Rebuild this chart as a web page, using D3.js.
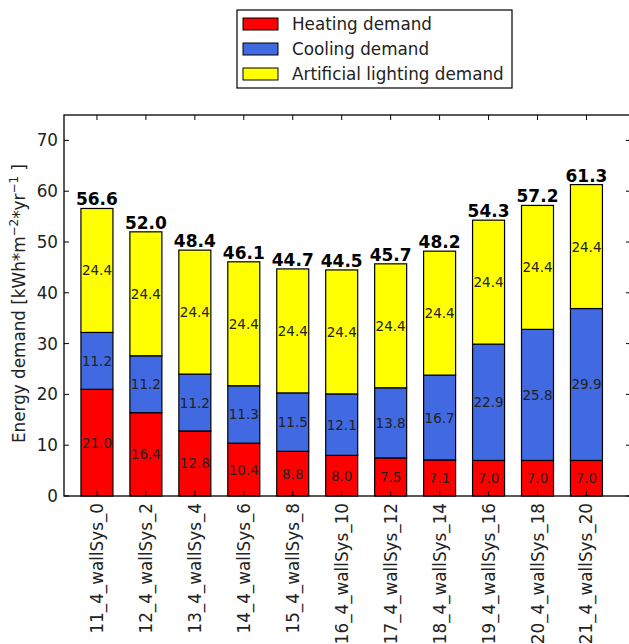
<!DOCTYPE html>
<html><head><meta charset="utf-8">
<script src="https://cdn.jsdelivr.net/npm/d3@7"></script>
<style>body{margin:0;background:#fff;}svg{display:block;font-family:"DejaVu Sans",sans-serif;}</style>
</head><body>
<svg id="c" width="629" height="644"></svg>
<script>
const categories = ["11_4_wallSys_0","12_4_wallSys_2","13_4_wallSys_4","14_4_wallSys_6","15_4_wallSys_8","16_4_wallSys_10","17_4_wallSys_12","18_4_wallSys_14","19_4_wallSys_16","20_4_wallSys_18","21_4_wallSys_20"];
const heating = [21.0,16.4,12.8,10.4,8.8,8.0,7.5,7.1,7.0,7.0,7.0];
const cooling = [11.2,11.2,11.2,11.3,11.5,12.1,13.8,16.7,22.9,25.8,29.9];
const lighting = [24.4,24.4,24.4,24.4,24.4,24.4,24.4,24.4,24.4,24.4,24.4];
const seriesNames = ["Heating demand","Cooling demand","Artificial lighting demand"];
const seriesColors = ["#ff0000","#4169e1","#ffff00"];
const yTicks = [0,10,20,30,40,50,60,70];

const svg = d3.select("#c");
const L = 64, R = 631, T = 115, B = 496;
const x = d3.scaleLinear().domain([-0.673, categories.length - 1 + 0.91]).range([L, R]);
const y = d3.scaleLinear().domain([0, 75]).range([B, T]);
const bw = 32;
const series = [heating, cooling, lighting];
const textCol = "#222";
const fs = 16.8;

// bars
categories.forEach((c, i) => {
  let base = 0;
  series.forEach((s, k) => {
    const v = s[i];
    svg.append("rect").attr("x", x(i) - bw/2).attr("y", y(base + v)).attr("width", bw).attr("height", y(base) - y(base + v))
      .attr("fill", seriesColors[k]).attr("stroke", "#000").attr("stroke-width", 1.2);
    svg.append("text").attr("x", x(i)).attr("y", y(base + v/2)).attr("text-anchor","middle").attr("dominant-baseline","central")
      .attr("font-size", 13.5).attr("fill", textCol).text(v.toFixed(1));
    base += v;
  });
  svg.append("text").attr("x", x(i)).attr("y", y(base) - 3).attr("text-anchor","middle")
    .attr("font-size", 17).attr("font-weight","bold").attr("fill","#000").text(base.toFixed(1));
});

// frame
svg.append("rect").attr("x", L).attr("y", T).attr("width", R - L).attr("height", B - T).attr("fill","none").attr("stroke","#000").attr("stroke-width",1.3);

// y ticks
const tl = 5;
yTicks.forEach(t => {
  svg.append("line").attr("x1", L).attr("x2", L + tl).attr("y1", y(t)).attr("y2", y(t)).attr("stroke","#000");
  svg.append("line").attr("x1", R).attr("x2", R - tl).attr("y1", y(t)).attr("y2", y(t)).attr("stroke","#000");
  svg.append("text").attr("x", L - 6).attr("y", y(t)).attr("text-anchor","end").attr("dominant-baseline","central")
    .attr("font-size", fs).attr("fill", textCol).text(t);
});
// x ticks
categories.forEach((c, i) => {
  svg.append("line").attr("x1", x(i)).attr("x2", x(i)).attr("y1", B).attr("y2", B - tl).attr("stroke","#000");
  svg.append("line").attr("x1", x(i)).attr("x2", x(i)).attr("y1", T).attr("y2", T + tl).attr("stroke","#000");
  svg.append("text").attr("transform", `translate(${x(i)},${B + 7}) rotate(-90)`).attr("text-anchor","end").attr("dominant-baseline","central")
    .attr("font-size", fs).attr("fill", textCol).text(c);
});

// y label
const yl = svg.append("text").attr("transform", `translate(25,${(T + B)/2 - 2}) rotate(-90)`).attr("text-anchor","middle")
  .attr("font-size", fs).attr("fill", textCol);
yl.append("tspan").text("Energy demand [kWh*m");
yl.append("tspan").attr("dy", -7).attr("font-size", 12).text("\u22122");
yl.append("tspan").attr("dy", 7).text("*yr");
yl.append("tspan").attr("dy", -7).attr("font-size", 12).text("\u22121");
yl.append("tspan").attr("dy", 7).text(" ]");

// legend
svg.append("rect").attr("x", 237).attr("y", 10).attr("width", 275).attr("height", 78).attr("fill","#fff").attr("stroke","#000").attr("stroke-width",1.2);
seriesNames.forEach((n, k) => {
  const cy = 24 + k * 25;
  svg.append("rect").attr("x", 243).attr("y", cy - 6).attr("width", 35).attr("height", 12).attr("fill", seriesColors[k]).attr("stroke","#000").attr("stroke-width",1);
  svg.append("text").attr("x", 292).attr("y", cy).attr("dominant-baseline","central").attr("font-size", fs).attr("fill", textCol).text(n);
});
</script>
</body></html>
